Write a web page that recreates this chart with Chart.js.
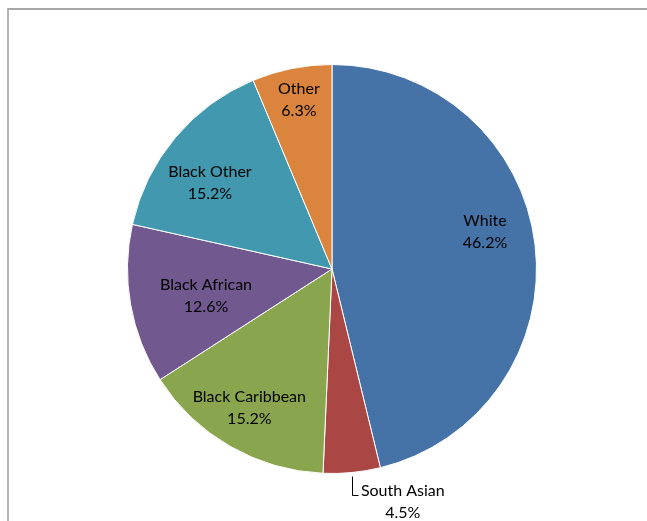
<!DOCTYPE html>
<html>
<head>
<meta charset="utf-8">
<script src="https://cdn.jsdelivr.net/npm/chart.js@4/dist/chart.umd.min.js"></script>
<style>
  html, body { margin: 0; padding: 0; background: #fff; }
  #wrap { position: relative; width: 647px; height: 521px; overflow: hidden; }
  #frame { position: absolute; left: 7px; top: 8px; width: 700px; height: 600px;
           border-left: 2px solid #b4b4b4; border-top: 2px solid #a8a8a8; }
  canvas { position: absolute; left: 0; top: 0; }
</style>
</head>
<body>
<div id="wrap">
  <div id="frame"></div>
  <canvas id="chart" width="647" height="521"></canvas>
</div>
<script>
"use strict";

// Ethnic group shares, clockwise from 12 o'clock.
const GROUPS = ["White", "South Asian", "Black Caribbean", "Black African", "Black Other", "Other"];
const SHARES = [46.2, 4.5, 15.2, 12.6, 15.2, 6.3];
const COLORS = ["#4572A7", "#AA4643", "#89A54E", "#71588F", "#4198AF", "#DB843D"];

// Label placement: fraction of radius + angle nudge (deg) from slice middle.
// null = outside, with a leader line.
const LABEL_RADIUS = [0.77, null, 0.79, 0.63, 0.73, 0.845];
const LABEL_NUDGE = [-6.8, 0, 0.9, -2, -4.8, 0.3];

const FONT = '16px Lato, "Open Sans", sans-serif';

const sliceLabels = {
  id: "sliceLabels",
  afterDatasetsDraw(chart) {
    const ctx = chart.ctx;
    const arcs = chart.getDatasetMeta(0).data;
    ctx.save();
    ctx.font = FONT;
    ctx.fillStyle = "#000";
    ctx.textBaseline = "middle";
    arcs.forEach((arc, i) => {
      const { x, y, startAngle, endAngle, outerRadius } =
        arc.getProps(["x", "y", "startAngle", "endAngle", "outerRadius"], true);
      const mid = (startAngle + endAngle) / 2;
      const pct = SHARES[i].toFixed(1) + "%";
      if (LABEL_RADIUS[i] != null) {
        const a = mid + LABEL_NUDGE[i] * Math.PI / 180;
        const r = outerRadius * LABEL_RADIUS[i];
        const lx = x + Math.cos(a) * r;
        const ly = y + Math.sin(a) * r;
        ctx.textAlign = "center";
        ctx.fillText(GROUPS[i], lx, ly - 11);
        ctx.fillText(pct, lx, ly + 11);
      } else {
        // leader line from slice edge down, then right to the label
        const ex = x + Math.cos(mid) * outerRadius;
        const ey = y + Math.sin(mid) * outerRadius;
        const lx = Math.round(ex) + 0.5;
        ctx.strokeStyle = "#000";
        ctx.lineWidth = 1;
        ctx.beginPath();
        ctx.moveTo(lx, ey + 4);
        ctx.lineTo(lx, Math.round(ey + 22) + 0.5);
        ctx.lineTo(lx + 6, Math.round(ey + 22) + 0.5);
        ctx.stroke();
        ctx.textAlign = "left";
        ctx.fillText(GROUPS[i], ex + 9, ey + 18);
        const w = ctx.measureText(GROUPS[i]).width;
        ctx.textAlign = "center";
        ctx.fillText(pct, ex + 9 + w / 2, ey + 40);
      }
    });
    ctx.restore();
  },
};

new Chart(document.getElementById("chart"), {
  type: "pie",
  data: {
    labels: GROUPS,
    datasets: [{
      data: SHARES,
      backgroundColor: COLORS,
      borderColor: "#ffffff",
      borderWidth: 1,
    }],
  },
  options: {
    responsive: false,
    animation: false,
    layout: { padding: { left: 127, right: 110, top: 64, bottom: 47 } },
    plugins: {
      legend: { display: false },
      tooltip: { enabled: false },
    },
  },
  plugins: [sliceLabels],
});
</script>
</body>
</html>
